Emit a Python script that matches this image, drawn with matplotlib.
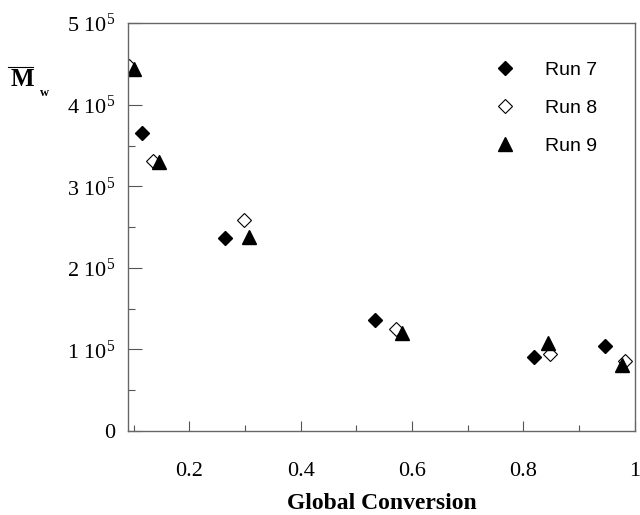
import matplotlib
matplotlib.use("Agg")
import matplotlib.pyplot as plt
from matplotlib.lines import Line2D
from matplotlib.ticker import MultipleLocator, FuncFormatter

plt.rcParams['mathtext.fontset'] = 'custom'
plt.rcParams['mathtext.rm'] = 'Liberation Serif'
plt.rcParams['mathtext.it'] = 'Liberation Serif:italic'
plt.rcParams['mathtext.bf'] = 'Liberation Serif:bold'

# Данные
run7_x = [0.116, 0.265, 0.533, 0.819, 0.946]
run7_y = [3.65e5, 2.37e5, 1.36e5, 0.91e5, 1.04e5]

run8_x = [0.091, 0.135, 0.299, 0.571, 0.848, 0.983]
run8_y = [4.47e5, 3.31e5, 2.59e5, 1.25e5, 0.94e5, 0.86e5]

run9_x = [0.101, 0.146, 0.308, 0.582, 0.844, 0.976]
run9_y = [4.44e5, 3.30e5, 2.38e5, 1.20e5, 1.08e5, 0.81e5]

labels = ['Run 7', 'Run 8', 'Run 9']

fig = plt.figure(figsize=(6.4, 5.15), dpi=100)
ax = fig.add_axes([0.2, 0.163, 0.792, 0.792])

ax.plot(run7_x, run7_y, 'D', color='black', markersize=7.5, linestyle='none', label=labels[0])
ax.plot(run8_x, run8_y, 'D', markerfacecolor='white', markeredgecolor='black',
        markeredgewidth=0.8, markersize=7.5, linestyle='none', label=labels[1])
ax.plot(run9_x, run9_y, '^', color='black', markersize=9.5, linestyle='none', label=labels[2])

ax.set_xlim(0.09, 1.0)
ax.set_ylim(0, 5e5)

ax.xaxis.set_major_locator(MultipleLocator(0.2))
ax.xaxis.set_minor_locator(MultipleLocator(0.1))
ax.yaxis.set_major_locator(MultipleLocator(1e5))
ax.yaxis.set_minor_locator(MultipleLocator(0.5e5))

def xfmt(v, pos):
    if abs(v - 1.0) < 1e-9:
        return '1'
    return f'{v:.1f}'

def yfmt(v, pos):
    n = int(round(v / 1e5))
    if n == 0:
        return '0'
    return f'{n} 10$^5$'

ax.xaxis.set_major_formatter(FuncFormatter(xfmt))
ax.yaxis.set_major_formatter(FuncFormatter(yfmt))

ax.tick_params(axis='both', which='both', direction='in', top=False, right=False,
               color='#555555', width=0.8)
ax.tick_params(axis='y', which='major', length=10, pad=9)
ax.tick_params(axis='y', which='minor', length=5)
ax.tick_params(axis='x', which='major', length=7, pad=22)
ax.tick_params(axis='x', which='minor', length=4)

for lab in ax.get_xticklabels() + ax.get_yticklabels():
    lab.set_fontfamily('Liberation Serif')
    lab.set_fontsize(16)

for sp in ax.spines.values():
    sp.set_color('#666666')
    sp.set_linewidth(1.0)

ax.set_xlabel('Global Conversion', fontfamily='Liberation Serif', fontweight='bold',
              fontsize=17, labelpad=9)

# Подпись оси Y: M с чертой и индексом w
fig.text(11 / 640, 1 - 80 / 515, 'M', fontfamily='Liberation Serif', fontweight='bold',
         fontsize=18, ha='left', va='center')
fig.text(40 / 640, 1 - 93 / 515, 'w', fontfamily='Liberation Serif', fontweight='bold',
         fontsize=9, ha='left', va='center')
fig.add_artist(Line2D([8 / 640, 33 / 640], [1 - 67 / 515, 1 - 67 / 515],
                      color='black', linewidth=0.8, transform=fig.transFigure))

leg = ax.legend(loc='upper left', bbox_to_anchor=(0.670, 0.950), frameon=False,
                numpoints=1, handletextpad=1.1, labelspacing=1.05,
                prop={'family': 'Liberation Sans', 'size': 14})

fig.savefig('out.png', dpi=100)
